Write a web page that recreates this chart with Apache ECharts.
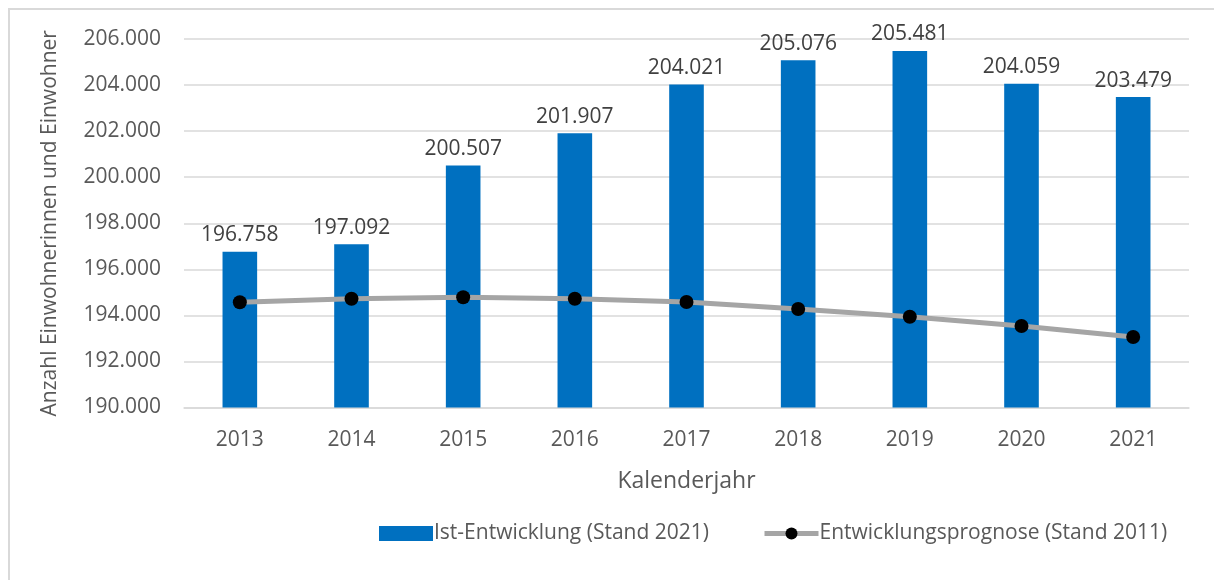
<!DOCTYPE html>
<html>
<head>
<meta charset="utf-8">
<script src="https://cdn.jsdelivr.net/npm/echarts@6/dist/echarts.min.js"></script>
<style>
html, body { margin: 0; padding: 0; background: #fff; overflow: hidden; }
#main { width: 1214px; height: 580px; }
</style>
</head>
<body>
<div id="main"></div>
<script>
// Daten
var jahre = ['2013', '2014', '2015', '2016', '2017', '2018', '2019', '2020', '2021'];
var istEntwicklung = [196758, 197092, 200507, 201907, 204021, 205076, 205481, 204059, 203479];
var prognose = [194570, 194720, 194790, 194720, 194580, 194280, 193940, 193540, 193060];
var yMin = 190000, yMax = 206000, yStep = 2000;

function fmt(v) {
    return String(Math.round(v)).replace(/\B(?=(\d{3})+(?!\d))/g, '.');
}

var textColor = '#595959';
var fontName = 'Open Sans';

var chart = echarts.init(document.getElementById('main'));

var option = {
    animation: false,
    textStyle: { fontFamily: fontName, color: textColor },
    graphic: [{
        type: 'rect',
        shape: { x: 9, y: 9, width: 1400, height: 800 },
        style: { fill: 'none', stroke: '#d9d9d9', lineWidth: 2 },
        silent: true,
        z: -1
    }],
    grid: {
        left: 184,
        right: 25,
        top: 39,
        bottom: 172.5
    },
    legend: {
        top: 518,
        left: 374,
        itemGap: 53,
        itemWidth: 54,
        itemHeight: 15,
        textStyle: { fontFamily: fontName, fontSize: 21, color: textColor, padding: [0, 0, 0, -4] },
        data: [
            { name: 'Ist-Entwicklung (Stand 2021)', icon: 'rect' },
            {
                name: 'Entwicklungsprognose (Stand 2011)',
                lineStyle: { color: '#a5a5a5', width: 5 },
                itemStyle: { color: '#000000' }
            }
        ]
    },
    xAxis: {
        type: 'category',
        data: jahre,
        name: 'Kalenderjahr',
        nameLocation: 'middle',
        nameGap: 62,
        nameTextStyle: { fontSize: 23, color: textColor },
        axisLine: { lineStyle: { color: '#d9d9d9', width: 1.5 } },
        axisTick: { show: false },
        axisLabel: { fontSize: 21, color: textColor, margin: 22 }
    },
    yAxis: {
        type: 'value',
        min: yMin,
        max: yMax,
        interval: yStep,
        name: 'Anzahl Einwohnerinnen und Einwohner',
        nameLocation: 'middle',
        nameGap: 123,
        nameTextStyle: { fontSize: 21, color: textColor },
        axisLine: { show: false },
        axisTick: { show: false },
        splitLine: { lineStyle: { color: '#d9d9d9', width: 1.5 } },
        axisLabel: {
            fontSize: 21,
            color: textColor,
            margin: 23,
            formatter: function (v) { return fmt(v); }
        }
    },
    series: [
        {
            name: 'Ist-Entwicklung (Stand 2021)',
            type: 'bar',
            barWidth: '31%',
            data: istEntwicklung,
            itemStyle: { color: '#0070c0' },
            label: {
                show: true,
                position: 'top',
                distance: 6,
                fontSize: 21,
                color: '#404040',
                formatter: function (p) { return fmt(p.value); }
            }
        },
        {
            name: 'Entwicklungsprognose (Stand 2011)',
            type: 'line',
            data: prognose,
            symbol: 'circle',
            symbolSize: 14,
            lineStyle: { color: '#a5a5a5', width: 5 },
            itemStyle: { color: '#000000', borderWidth: 0 },
            z: 3
        }
    ]
};

chart.setOption(option);
</script>
</body>
</html>
